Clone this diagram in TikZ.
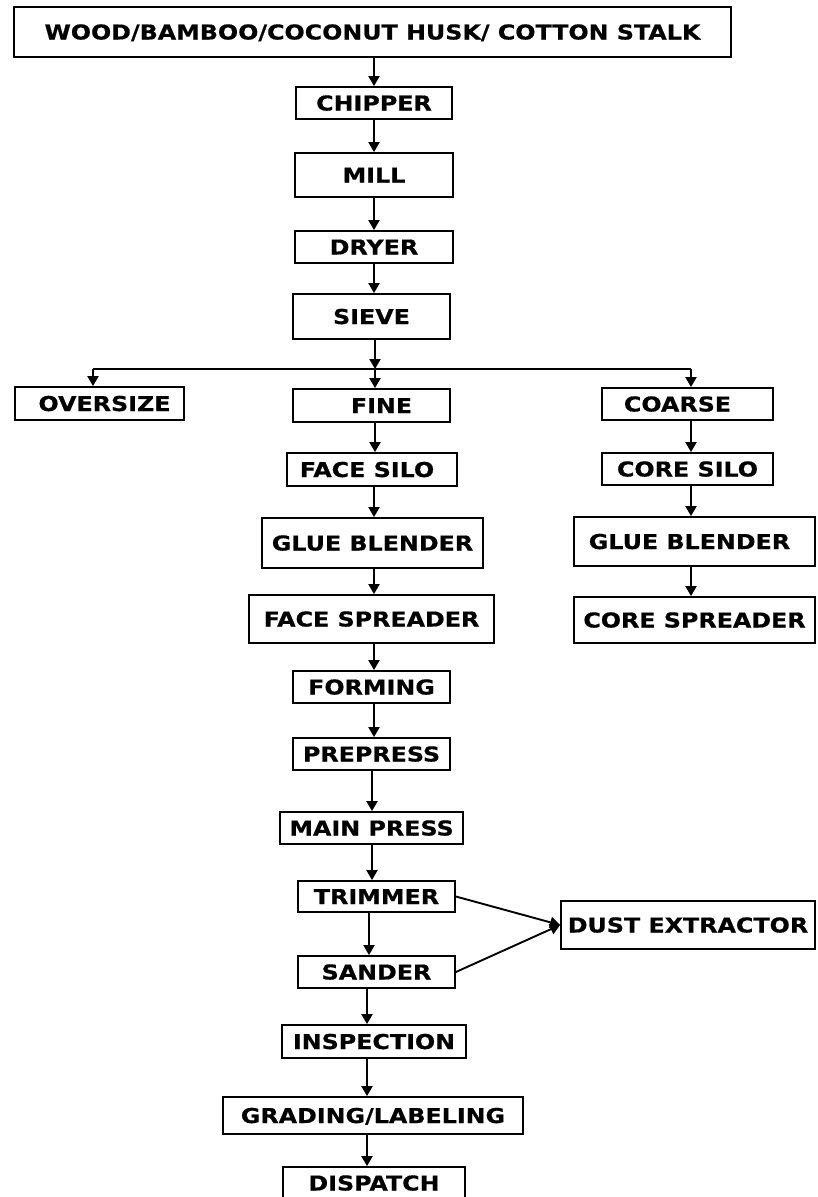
\documentclass[tikz,border=0pt]{standalone}
\usepackage{fontspec}
\newfontfamily\boxfont{DejaVu Sans}[FakeStretch=1.16,FakeBold=0.6]
\usetikzlibrary{arrows.meta}
\begin{document}
\begin{tikzpicture}[x=1pt,y=-1pt,
  box/.style={draw, line width=1.8pt, inner sep=2pt,
    font={\boxfont\bfseries\fontsize{20.5pt}{24pt}\selectfont},
    text height=15pt, text depth=0pt},
  wh/.style 2 args={minimum width=#1pt, minimum height=#2pt},
  arr/.style={line width=1.9pt, -{Triangle[length=10pt,width=11pt]}},
  link/.style={line width=1.9pt}]
\fill[white] (0,0) rectangle (817,1197);
\useasboundingbox (0,0) rectangle (817,1197);

% main column
\node[box, wh={717}{50}] (src) at (372.5,32) {WOOD/BAMBOO/COCONUT HUSK/ COTTON STALK};
\node[box, wh={156}{32}] (chipper) at (374,103) {CHIPPER};
\node[box, wh={158}{44}] (mill) at (374,175) {MILL};
\node[box, wh={158}{32}] (dryer) at (374,247) {DRYER};
\node[box, wh={157}{45}] (sieve) at (371.5,316.5) {SIEVE};

\node[box, wh={169}{33}] (oversize) at (99.5,403.5) {\hspace*{10pt}OVERSIZE};
\node[box, wh={157}{33}] (fine) at (371.5,405.5) {\hspace*{20pt}FINE};
\node[box, wh={171}{32}] (coarse) at (687.5,404) {COARSE\hspace*{20pt}};

\node[box, wh={170}{33}] (facesilo) at (372,469.5) {FACE SILO\hspace*{10pt}};
\node[box, wh={171}{32}] (coresilo) at (687.5,469) {CORE SILO};
\node[box, wh={221}{50}] (glueA) at (372.5,543) {GLUE BLENDER};
\node[box, wh={241}{49}] (glueB) at (694.5,541.5) {GLUE BLENDER\hspace*{10pt}};
\node[box, wh={245}{48}] (facespread) at (371.5,619) {FACE SPREADER};
\node[box, wh={241}{46}] (corespread) at (694.5,620) {CORE SPREADER};

\node[box, wh={157}{32}] (forming) at (371.5,687) {FORMING};
\node[box, wh={157}{32}] (prepress) at (371.5,754) {PREPRESS};
\node[box, wh={183}{32}] (mainpress) at (371.5,828) {MAIN PRESS};
\node[box, wh={157}{31}] (trimmer) at (376.5,896.5) {TRIMMER};
\node[box, wh={157}{32}] (sander) at (376.5,972) {SANDER};
\node[box, wh={254}{48}] (dust) at (688,925) {DUST EXTRACTOR};
\node[box, wh={184}{33}] (inspection) at (374,1041.5) {INSPECTION};
\node[box, wh={300}{37}] (grading) at (373,1115.5) {GRADING/LABELING};
\node[box, wh={182}{32}] (dispatch) at (374,1183) {DISPATCH};

% column positions
\coordinate (xA) at (374,0);
\coordinate (xB) at (372,0);
\coordinate (xC) at (369,0);
\coordinate (xD) at (367,0);
\coordinate (xR) at (691,0);
\coordinate (j) at (375,369);
\coordinate (jl) at (93,369);
\coordinate (jr) at (691,369);

\draw[arr] (src.south -| xA) -- (chipper.north -| xA);
\draw[arr] (chipper.south -| xA) -- (mill.north -| xA);
\draw[arr] (mill.south -| xA) -- (dryer.north -| xA);
\draw[arr] (dryer.south -| xA) -- (sieve.north -| xA);
\draw[arr] (sieve.south -| j) -- (j);
\draw[link] (jl) -- (jr);
\draw[arr] (jl) -- (oversize.north -| jl);
\draw[arr] (j) -- (fine.north -| j);
\draw[arr] (jr) -- (coarse.north -| jr);

\draw[arr] (fine.south -| j) -- (facesilo.north -| j);
\draw[arr] (facesilo.south -| xA) -- (glueA.north -| xA);
\draw[arr] (glueA.south -| xA) -- (facespread.north -| xA);
\draw[arr] (facespread.south -| xA) -- (forming.north -| xA);
\draw[arr] (forming.south -| xA) -- (prepress.north -| xA);
\draw[arr] (prepress.south -| xB) -- (mainpress.north -| xB);
\draw[arr] (mainpress.south -| xB) -- (trimmer.north -| xB);
\draw[arr] (trimmer.south -| xC) -- (sander.north -| xC);
\draw[arr] (sander.south -| xD) -- (inspection.north -| xD);
\draw[arr] (inspection.south -| xD) -- (grading.north -| xD);
\draw[arr] (grading.south -| xD) -- (dispatch.north -| xD);

\draw[arr] (coarse.south -| xR) -- (coresilo.north -| xR);
\draw[arr] (coresilo.south -| xR) -- (glueB.north -| xR);
\draw[arr] (glueB.south -| xR) -- (corespread.north -| xR);

\draw[arr] (trimmer.east) -- (dust.west);
\draw[arr] (sander.east) -- (dust.west);
\end{tikzpicture}
\end{document}
